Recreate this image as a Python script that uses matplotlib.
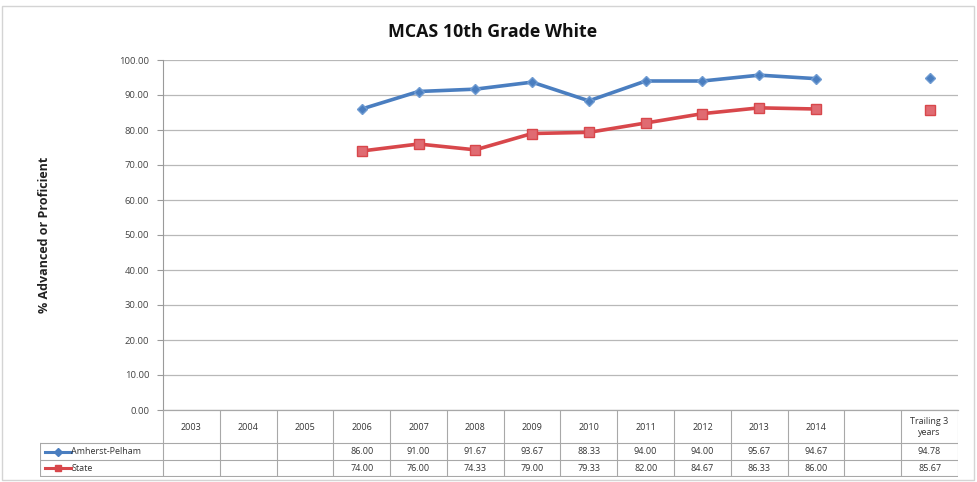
import numpy as np
import matplotlib
matplotlib.use('Agg')
import matplotlib.pyplot as plt

categories = ['2003', '2004', '2005', '2006', '2007', '2008', '2009', '2010',
              '2011', '2012', '2013', '2014', '', 'Trailing 3\nyears']
amherst = [None, None, None, 86.00, 91.00, 91.67, 93.67, 88.33, 94.00, 94.00, 95.67, 94.67, None, 94.78]
state = [None, None, None, 74.00, 76.00, 74.33, 79.00, 79.33, 82.00, 84.67, 86.33, 86.00, None, 85.67]
series_names = ['Amherst-Pelham', 'State']
yticks = np.arange(0, 101, 10)

blue = '#4a7ec0'
red = '#d8474b'
plt.rcParams['font.family'] = ['Open Sans', 'DejaVu Sans']

W, H = 978, 482
fig = plt.figure(figsize=(W / 100, H / 100), dpi=100)

def px_axes(x0, y0, x1, y1):
    return fig.add_axes([x0 / W, 1 - y1 / H, (x1 - x0) / W, (y1 - y0) / H])

# outer chart frame
fig.patches.append(plt.Rectangle((2 / W, 2 / H), 1 - 6 / W, 1 - 8 / H, transform=fig.transFigure,
                                 fill=False, edgecolor='#d4d4d4', lw=1))

n = len(categories)
x = np.arange(n)
ax = px_axes(163, 60, 958, 410)
a = np.array([np.nan if v is None else v for v in amherst])
s = np.array([np.nan if v is None else v for v in state])
ax.plot(x, a, color=blue, lw=2.6, marker='D', ms=5.5, mfc=blue, mec='#6f9bd2', zorder=3)
ax.plot(x, s, color=red, lw=2.6, marker='s', ms=6.5, mfc='#e06b72', mec=red, zorder=3)
ax.set_xlim(-0.5, n - 0.5)
ax.set_ylim(0, 100)
ax.set_yticks(yticks)
ax.set_yticklabels(['%.2f' % v for v in yticks], fontsize=6.8, color='#444444')
ax.yaxis.grid(True, color='#b8b8b8', lw=0.9)
ax.axhline(0, color='#a8a8a8', lw=0.9, clip_on=False)
ax.set_axisbelow(True)
ax.set_xticks([])
for sp in ['top', 'right', 'bottom']:
    ax.spines[sp].set_visible(False)
ax.spines['left'].set_color('#9a9a9a')
ax.tick_params(axis='y', length=4, color='#9a9a9a', pad=6)

fig.text(493 / W, 1 - 32 / H, 'MCAS 10th Grade White', ha='center', va='center',
         fontsize=12.8, fontweight='bold', color='#111111')
fig.text(45 / W, 1 - 235 / H, '% Advanced or Proficient', ha='center', va='center',
         rotation=90, fontsize=9, fontweight='bold', color='#222222')

# data table below the plot
colw = (958 - 163) / n
left_units = (163 - 40) / colw
tab = px_axes(40, 410, 958, 477)
tab.set_xlim(-0.5 - left_units, n - 0.5)
tab.set_ylim(477, 410)
tab.axis('off')
gc = '#a8a8a8'
for i in range(n + 1):
    tab.plot([i - 0.5, i - 0.5], [410, 476], color=gc, lw=0.8)
tab.plot([-0.5 - left_units] * 2, [443, 476], color=gc, lw=0.8)
for yy in [443, 460, 476]:
    tab.plot([-0.5 - left_units, n - 0.5], [yy, yy], color=gc, lw=0.8)
for i, c in enumerate(categories):
    tab.text(i, 427, c, ha='center', va='center', fontsize=6.5, color='#333333', linespacing=1.3)
rows = [(series_names[0], amherst, blue, 'D', 451.5), (series_names[1], state, red, 's', 468)]
for name, vals, col, mk, yy in rows:
    x0 = -0.5 - left_units
    tab.plot([x0 + 0.08, x0 + 0.55], [yy, yy], color=col, lw=2.2)
    tab.plot([x0 + 0.32], [yy], marker=mk, ms=4, color=col)
    tab.text(x0 + 0.55, yy, name, ha='left', va='center', fontsize=6.5, color='#333333')
    for i, v in enumerate(vals):
        if v is not None:
            tab.text(i, yy, '%.2f' % v, ha='center', va='center', fontsize=6.5, color='#333333')

fig.savefig('out.png', dpi=100)
